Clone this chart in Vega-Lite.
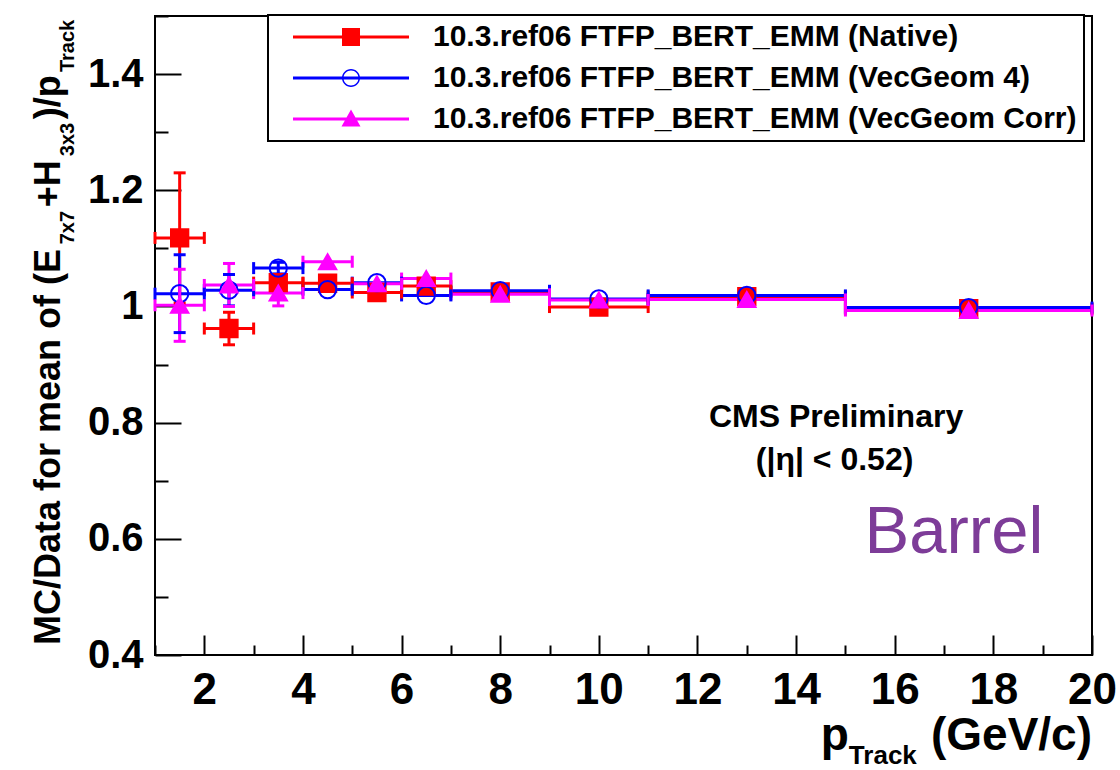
{
  "$schema": "https://vega.github.io/schema/vega-lite/v6.json",
  "width": 937,
  "height": 639,
  "autosize": {"type": "none"},
  "padding": {"left": 155, "top": 16, "right": 28, "bottom": 115},
  "background": "#ffffff",
  "config": {
    "view": {"stroke": "#000000", "strokeWidth": 2},
    "font": "Liberation Sans"
  },
  "datasets": {
    "pts": [
      {"series": "10.3.ref06 FTFP_BERT_EMM (Native)", "x": 1.5, "xlo": 1, "xhi": 2, "y": 1.118, "ylo": 1.006, "yhi": 1.230},
      {"series": "10.3.ref06 FTFP_BERT_EMM (Native)", "x": 2.5, "xlo": 2, "xhi": 3, "y": 0.962, "ylo": 0.934, "yhi": 0.990},
      {"series": "10.3.ref06 FTFP_BERT_EMM (Native)", "x": 3.5, "xlo": 3, "xhi": 4, "y": 1.041, "ylo": 1.031, "yhi": 1.051},
      {"series": "10.3.ref06 FTFP_BERT_EMM (Native)", "x": 4.5, "xlo": 4, "xhi": 5, "y": 1.040, "ylo": 1.032, "yhi": 1.048},
      {"series": "10.3.ref06 FTFP_BERT_EMM (Native)", "x": 5.5, "xlo": 5, "xhi": 6, "y": 1.024, "ylo": 1.017, "yhi": 1.031},
      {"series": "10.3.ref06 FTFP_BERT_EMM (Native)", "x": 6.5, "xlo": 6, "xhi": 7, "y": 1.035, "ylo": 1.028, "yhi": 1.042},
      {"series": "10.3.ref06 FTFP_BERT_EMM (Native)", "x": 8, "xlo": 7, "xhi": 9, "y": 1.025, "ylo": 1.021, "yhi": 1.029},
      {"series": "10.3.ref06 FTFP_BERT_EMM (Native)", "x": 10, "xlo": 9, "xhi": 11, "y": 0.999, "ylo": 0.995, "yhi": 1.003},
      {"series": "10.3.ref06 FTFP_BERT_EMM (Native)", "x": 13, "xlo": 11, "xhi": 15, "y": 1.017, "ylo": 1.013, "yhi": 1.021},
      {"series": "10.3.ref06 FTFP_BERT_EMM (Native)", "x": 17.5, "xlo": 15, "xhi": 20, "y": 0.996, "ylo": 0.992, "yhi": 1.000},
      {"series": "10.3.ref06 FTFP_BERT_EMM (VecGeom 4)", "x": 1.5, "xlo": 1, "xhi": 2, "y": 1.022, "ylo": 0.955, "yhi": 1.089},
      {"series": "10.3.ref06 FTFP_BERT_EMM (VecGeom 4)", "x": 2.5, "xlo": 2, "xhi": 3, "y": 1.028, "ylo": 1.001, "yhi": 1.055},
      {"series": "10.3.ref06 FTFP_BERT_EMM (VecGeom 4)", "x": 3.5, "xlo": 3, "xhi": 4, "y": 1.066, "ylo": 1.056, "yhi": 1.076},
      {"series": "10.3.ref06 FTFP_BERT_EMM (VecGeom 4)", "x": 4.5, "xlo": 4, "xhi": 5, "y": 1.029, "ylo": 1.021, "yhi": 1.037},
      {"series": "10.3.ref06 FTFP_BERT_EMM (VecGeom 4)", "x": 5.5, "xlo": 5, "xhi": 6, "y": 1.041, "ylo": 1.034, "yhi": 1.048},
      {"series": "10.3.ref06 FTFP_BERT_EMM (VecGeom 4)", "x": 6.5, "xlo": 6, "xhi": 7, "y": 1.019, "ylo": 1.012, "yhi": 1.026},
      {"series": "10.3.ref06 FTFP_BERT_EMM (VecGeom 4)", "x": 8, "xlo": 7, "xhi": 9, "y": 1.027, "ylo": 1.023, "yhi": 1.031},
      {"series": "10.3.ref06 FTFP_BERT_EMM (VecGeom 4)", "x": 10, "xlo": 9, "xhi": 11, "y": 1.013, "ylo": 1.009, "yhi": 1.017},
      {"series": "10.3.ref06 FTFP_BERT_EMM (VecGeom 4)", "x": 13, "xlo": 11, "xhi": 15, "y": 1.019, "ylo": 1.015, "yhi": 1.023},
      {"series": "10.3.ref06 FTFP_BERT_EMM (VecGeom 4)", "x": 17.5, "xlo": 15, "xhi": 20, "y": 0.998, "ylo": 0.994, "yhi": 1.002},
      {"series": "10.3.ref06 FTFP_BERT_EMM (VecGeom Corr)", "x": 1.5, "xlo": 1, "xhi": 2, "y": 1.002, "ylo": 0.940, "yhi": 1.064},
      {"series": "10.3.ref06 FTFP_BERT_EMM (VecGeom Corr)", "x": 2.5, "xlo": 2, "xhi": 3, "y": 1.037, "ylo": 1.000, "yhi": 1.074},
      {"series": "10.3.ref06 FTFP_BERT_EMM (VecGeom Corr)", "x": 3.5, "xlo": 3, "xhi": 4, "y": 1.023, "ylo": 1.001, "yhi": 1.045},
      {"series": "10.3.ref06 FTFP_BERT_EMM (VecGeom Corr)", "x": 4.5, "xlo": 4, "xhi": 5, "y": 1.077, "ylo": 1.069, "yhi": 1.085},
      {"series": "10.3.ref06 FTFP_BERT_EMM (VecGeom Corr)", "x": 5.5, "xlo": 5, "xhi": 6, "y": 1.039, "ylo": 1.032, "yhi": 1.046},
      {"series": "10.3.ref06 FTFP_BERT_EMM (VecGeom Corr)", "x": 6.5, "xlo": 6, "xhi": 7, "y": 1.048, "ylo": 1.041, "yhi": 1.055},
      {"series": "10.3.ref06 FTFP_BERT_EMM (VecGeom Corr)", "x": 8, "xlo": 7, "xhi": 9, "y": 1.021, "ylo": 1.017, "yhi": 1.025},
      {"series": "10.3.ref06 FTFP_BERT_EMM (VecGeom Corr)", "x": 10, "xlo": 9, "xhi": 11, "y": 1.011, "ylo": 1.007, "yhi": 1.015},
      {"series": "10.3.ref06 FTFP_BERT_EMM (VecGeom Corr)", "x": 13, "xlo": 11, "xhi": 15, "y": 1.012, "ylo": 1.008, "yhi": 1.016},
      {"series": "10.3.ref06 FTFP_BERT_EMM (VecGeom Corr)", "x": 17.5, "xlo": 15, "xhi": 20, "y": 0.993, "ylo": 0.989, "yhi": 0.997}
    ],
    "ytitle": [
      {"t": "MC/Data for mean of (E", "x": -0.926, "y": 0.4172},
      {"t": "+H", "x": -0.926, "y": 1.1707},
      {"t": ")/p", "x": -0.926, "y": 1.3224}
    ],
    "ytitlesub": [
      {"t": "7x7", "x": -0.642, "y": 1.1069},
      {"t": "3x3", "x": -0.642, "y": 1.2586},
      {"t": "Track", "x": -0.642, "y": 1.4034}
    ],
    "xtitleleft": [
      {"t": "p", "x": 14.5, "y": 0.2362}
    ],
    "xtitleright": [
      {"t": "(GeV/c)", "x": 20, "y": 0.2362}
    ],
    "xtitlesub": [
      {"t": "Track", "x": 15.07, "y": 0.212}
    ],
    "cms": [
      {"t": "CMS Preliminary", "x": 14.81, "y": 0.793},
      {"t": "(|η| < 0.52)", "x": 14.78, "y": 0.719}
    ],
    "region": [
      {"t": "Barrel", "x": 17.2, "y": 0.576}
    ]
  },
  "layer": [
    {
      "mark": {"type": "rule", "color": "#ff0000", "strokeWidth": 2, "strokeDash": [6, 6]},
      "encoding": {
        "y": {"datum": 1, "type": "quantitative", "scale": {"domain": [0.4, 1.5], "nice": false, "zero": false}}
      }
    },
    {
      "data": {"name": "pts"},
      "mark": {"type": "rule", "strokeWidth": 3},
      "encoding": {
        "x": {"field": "xlo", "type": "quantitative", "scale": {"domain": [1, 20], "nice": false, "zero": false},
          "axis": {
            "values": [1,1.5,2,2.5,3,3.5,4,4.5,5,5.5,6,6.5,7,7.5,8,8.5,9,9.5,10,10.5,11,11.5,12,12.5,13,13.5,14,14.5,15,15.5,16,16.5,17,17.5,18,18.5,19,19.5,20],
            "title": null, "domain": false, "grid": false,
            "tickColor": "#000000", "tickWidth": 2,
            "tickSize": {"condition": {"test": "datum.value % 2 === 0", "value": -20}, "value": -10},
            "labelExpr": "datum.value % 2 === 0 ? format(datum.value, 'd') : ''",
            "labelFont": "Liberation Sans", "labelFontWeight": "bold", "labelFontSize": 44, "labelColor": "#000000",
            "labelPadding": 33, "labelFlush": false, "labelOverlap": false, "labelBound": false
          }},
        "x2": {"field": "xhi"},
        "y": {"field": "y", "type": "quantitative", "scale": {"domain": [0.4, 1.5], "nice": false, "zero": false},
          "axis": {
            "values": [0.4,0.45,0.5,0.55,0.6,0.65,0.7,0.75,0.8,0.85,0.9,0.95,1,1.05,1.1,1.15,1.2,1.25,1.3,1.35,1.4,1.45,1.5],
            "title": null, "domain": false, "grid": false,
            "tickColor": "#000000", "tickWidth": 2,
            "tickSize": {"condition": {"test": "abs(datum.value*5 - round(datum.value*5)) < 0.001", "value": -26}, "value": -13},
            "labelExpr": "abs(datum.value*5 - round(datum.value*5)) < 0.001 ? format(datum.value, '~g') : ''",
            "labelFont": "Liberation Sans", "labelFontWeight": "bold", "labelFontSize": 40, "labelColor": "#000000",
            "labelPadding": 38, "labelFlush": false, "labelOverlap": false, "labelBound": false
          }},
        "color": {"field": "series", "type": "nominal",
          "scale": {"domain": ["10.3.ref06 FTFP_BERT_EMM (Native)", "10.3.ref06 FTFP_BERT_EMM (VecGeom 4)", "10.3.ref06 FTFP_BERT_EMM (VecGeom Corr)"], "range": ["#ff0000", "#0000ff", "#ff00ff"]},
          "legend": {
            "orient": "none", "legendX": 113, "legendY": -1, "direction": "vertical", "title": null,
            "padding": 7, "rowPadding": 11, "symbolOffset": 61, "labelOffset": 67, "symbolSize": 400,
            "labelFont": "Liberation Sans", "labelFontWeight": "bold", "labelFontSize": 30, "labelColor": "#000000",
            "labelLimit": 2000, "labelBaseline": "middle",
            "fillColor": "#ffffff", "strokeColor": "#000000",
            "encode": {
              "symbols": {
                "update": {
                  "shape": {"signal": "indexof(datum.value,'Native')>=0 ? 'M-5.8,-0.15H5.8V0.15H-5.8Z M-0.9,-0.9H0.9V0.9H-0.9Z' : indexof(datum.value,'Corr')>=0 ? 'M-5.8,-0.15H5.8V0.15H-5.8Z M0,-0.95L0.95,0.75L-0.95,0.75Z' : 'M-5.8,-0.15H5.8V0.15H-5.8Z M0.9,0A0.9,0.9,0,1,1,-0.9,0A0.9,0.9,0,1,1,0.9,0Z M0.75,0A0.75,0.75,0,1,0,-0.75,0A0.75,0.75,0,1,0,0.75,0Z'"},
                  "fill": {"signal": "indexof(datum.value,'Native')>=0 ? '#ff0000' : indexof(datum.value,'Corr')>=0 ? '#ff00ff' : '#0000ff'"},
                  "stroke": {"value": "transparent"},
                  "strokeWidth": {"value": 0},
                  "opacity": {"value": 1}
                }
              },
              "legend": {"update": {"strokeWidth": {"value": 2}}}
            }
          }}
      }
    },
    {
      "data": {"name": "pts"},
      "transform": [{"filter": "datum.yhi - datum.ylo > 0.02"}],
      "mark": {"type": "rule", "strokeWidth": 3},
      "encoding": {
        "x": {"field": "x", "type": "quantitative", "scale": {"domain": [1, 20], "nice": false, "zero": false}},
        "y": {"field": "ylo", "type": "quantitative", "scale": {"domain": [0.4, 1.5], "nice": false, "zero": false}},
        "y2": {"field": "yhi"},
        "color": {"field": "series", "type": "nominal", "legend": null}
      }
    },
    {
      "data": {"name": "pts"},
      "mark": {"type": "tick", "orient": "vertical", "size": 12, "thickness": 3, "opacity": 1},
      "encoding": {
        "x": {"field": "xlo", "type": "quantitative", "scale": {"domain": [1, 20], "nice": false, "zero": false}},
        "y": {"field": "y", "type": "quantitative", "scale": {"domain": [0.4, 1.5], "nice": false, "zero": false}},
        "color": {"field": "series", "type": "nominal", "legend": null}
      }
    },
    {
      "data": {"name": "pts"},
      "mark": {"type": "tick", "orient": "vertical", "size": 12, "thickness": 3, "opacity": 1},
      "encoding": {
        "x": {"field": "xhi", "type": "quantitative", "scale": {"domain": [1, 20], "nice": false, "zero": false}},
        "y": {"field": "y", "type": "quantitative", "scale": {"domain": [0.4, 1.5], "nice": false, "zero": false}},
        "color": {"field": "series", "type": "nominal", "legend": null}
      }
    },
    {
      "data": {"name": "pts"},
      "transform": [{"filter": "datum.yhi - datum.ylo > 0.02"}],
      "mark": {"type": "tick", "orient": "horizontal", "size": 12, "thickness": 3, "opacity": 1},
      "encoding": {
        "x": {"field": "x", "type": "quantitative", "scale": {"domain": [1, 20], "nice": false, "zero": false}},
        "y": {"field": "ylo", "type": "quantitative", "scale": {"domain": [0.4, 1.5], "nice": false, "zero": false}},
        "color": {"field": "series", "type": "nominal", "legend": null}
      }
    },
    {
      "data": {"name": "pts"},
      "transform": [{"filter": "datum.yhi - datum.ylo > 0.02"}],
      "mark": {"type": "tick", "orient": "horizontal", "size": 12, "thickness": 3, "opacity": 1},
      "encoding": {
        "x": {"field": "x", "type": "quantitative", "scale": {"domain": [1, 20], "nice": false, "zero": false}},
        "y": {"field": "yhi", "type": "quantitative", "scale": {"domain": [0.4, 1.5], "nice": false, "zero": false}},
        "color": {"field": "series", "type": "nominal", "legend": null}
      }
    },
    {
      "data": {"name": "pts"},
      "mark": {"type": "point", "size": 300, "strokeWidth": 2, "opacity": 1},
      "encoding": {
        "x": {"field": "x", "type": "quantitative", "scale": {"domain": [1, 20], "nice": false, "zero": false}},
        "y": {"field": "y", "type": "quantitative", "scale": {"domain": [0.4, 1.5], "nice": false, "zero": false}},
        "shape": {"field": "series", "type": "nominal", "legend": null,
          "scale": {"range": ["square", "circle", "triangle-up"]}},
        "fill": {"field": "series", "type": "nominal", "legend": null,
          "scale": {"range": ["#ff0000", "transparent", "#ff00ff"]}},
        "stroke": {"field": "series", "type": "nominal", "legend": null,
          "scale": {"range": ["#ff0000", "#0000ff", "#ff00ff"]}}
      }
    },
    {
      "mark": {"type": "rule", "color": "#ff0000", "strokeWidth": 2},
      "encoding": {
        "x": {"datum": 20, "type": "quantitative", "scale": {"domain": [1, 20], "nice": false, "zero": false}}
      }
    },
    {
      "data": {"name": "ytitle"},
      "mark": {"type": "text", "angle": 270, "align": "left", "baseline": "alphabetic", "font": "Liberation Sans", "fontWeight": "bold", "fontSize": 36, "color": "#000000"},
      "encoding": {
        "x": {"field": "x", "type": "quantitative", "scale": {"domain": [1, 20], "nice": false, "zero": false}},
        "y": {"field": "y", "type": "quantitative", "scale": {"domain": [0.4, 1.5], "nice": false, "zero": false}},
        "text": {"field": "t"}
      }
    },
    {
      "data": {"name": "ytitlesub"},
      "mark": {"type": "text", "angle": 270, "align": "left", "baseline": "alphabetic", "font": "Liberation Sans", "fontWeight": "bold", "fontSize": 20, "color": "#000000"},
      "encoding": {
        "x": {"field": "x", "type": "quantitative", "scale": {"domain": [1, 20], "nice": false, "zero": false}},
        "y": {"field": "y", "type": "quantitative", "scale": {"domain": [0.4, 1.5], "nice": false, "zero": false}},
        "text": {"field": "t"}
      }
    },
    {
      "data": {"name": "xtitleleft"},
      "mark": {"type": "text", "align": "left", "baseline": "alphabetic", "font": "Liberation Sans", "fontWeight": "bold", "fontSize": 46, "color": "#000000"},
      "encoding": {
        "x": {"field": "x", "type": "quantitative", "scale": {"domain": [1, 20], "nice": false, "zero": false}},
        "y": {"field": "y", "type": "quantitative", "scale": {"domain": [0.4, 1.5], "nice": false, "zero": false}},
        "text": {"field": "t"}
      }
    },
    {
      "data": {"name": "xtitleright"},
      "mark": {"type": "text", "align": "right", "baseline": "alphabetic", "font": "Liberation Sans", "fontWeight": "bold", "fontSize": 46, "color": "#000000"},
      "encoding": {
        "x": {"field": "x", "type": "quantitative", "scale": {"domain": [1, 20], "nice": false, "zero": false}},
        "y": {"field": "y", "type": "quantitative", "scale": {"domain": [0.4, 1.5], "nice": false, "zero": false}},
        "text": {"field": "t"}
      }
    },
    {
      "data": {"name": "xtitlesub"},
      "mark": {"type": "text", "align": "left", "baseline": "alphabetic", "font": "Liberation Sans", "fontWeight": "bold", "fontSize": 26, "color": "#000000"},
      "encoding": {
        "x": {"field": "x", "type": "quantitative", "scale": {"domain": [1, 20], "nice": false, "zero": false}},
        "y": {"field": "y", "type": "quantitative", "scale": {"domain": [0.4, 1.5], "nice": false, "zero": false}},
        "text": {"field": "t"}
      }
    },
    {
      "data": {"name": "cms"},
      "mark": {"type": "text", "align": "center", "baseline": "alphabetic", "font": "Liberation Sans", "fontWeight": "bold", "fontSize": 32, "color": "#000000"},
      "encoding": {
        "x": {"field": "x", "type": "quantitative", "scale": {"domain": [1, 20], "nice": false, "zero": false}},
        "y": {"field": "y", "type": "quantitative", "scale": {"domain": [0.4, 1.5], "nice": false, "zero": false}},
        "text": {"field": "t"}
      }
    },
    {
      "data": {"name": "region"},
      "mark": {"type": "text", "align": "center", "baseline": "alphabetic", "font": "Liberation Sans", "fontWeight": "normal", "fontSize": 67, "color": "#7d3c98"},
      "encoding": {
        "x": {"field": "x", "type": "quantitative", "scale": {"domain": [1, 20], "nice": false, "zero": false}},
        "y": {"field": "y", "type": "quantitative", "scale": {"domain": [0.4, 1.5], "nice": false, "zero": false}},
        "text": {"field": "t"}
      }
    }
  ]
}
